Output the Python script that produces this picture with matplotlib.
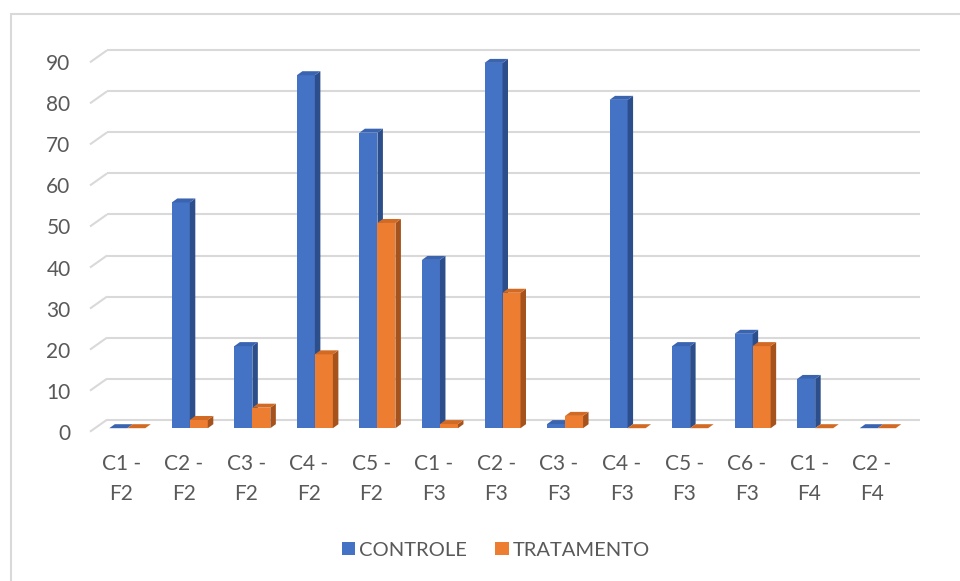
import matplotlib
matplotlib.use("Agg")
import matplotlib.pyplot as plt
from matplotlib.patches import Polygon, Rectangle

categories = ["C1 -\nF2", "C2 -\nF2", "C3 -\nF2", "C4 -\nF2", "C5 -\nF2", "C1 -\nF3",
              "C2 -\nF3", "C3 -\nF3", "C4 -\nF3", "C5 -\nF3", "C6 -\nF3", "C1 -\nF4", "C2 -\nF4"]
controle = [0, 55, 20, 86, 72, 41, 89, 1, 80, 20, 23, 12, 0]
tratamento = [0, 2, 5, 18, 50, 1, 33, 3, 0, 0, 20, 0, 0]
yticks = [0, 10, 20, 30, 40, 50, 60, 70, 80, 90]

W, H = 960, 581
fig = plt.figure(figsize=(W / 100, H / 100), dpi=100)
FONT = ["Lato", "DejaVu Sans"]
FS = 15
TXT = "#595959"

# axes geometry in pixels (front plane)
left_px, right_px = 90, 903
top_px, bot_px = 62.3, 431.7
ax = fig.add_axes([left_px / W, 1 - bot_px / H, (right_px - left_px) / W, (bot_px - top_px) / H])
xmin, xmax, ymin, ymax = -0.5, len(categories) - 0.5, 0, 90
ax.set_xlim(xmin, xmax)
ax.set_ylim(ymin, ymax)
for s in ax.spines.values():
    s.set_visible(False)
ax.set_facecolor("none")

ppx = (right_px - left_px) / (xmax - xmin)
ppy = (bot_px - top_px) / (ymax - ymin)

def dx(px):
    return px / ppx

def dy(px):
    return px / ppy

# back wall gridlines and left side diagonals
bx, by = dx(17), dy(12)
grid_c = "#d9d9d9"
for v in yticks:
    ax.plot([xmin + bx, xmax + bx], [v + by, v + by], color=grid_c, lw=1.5, clip_on=False, zorder=1,
            solid_capstyle="butt")
    ax.plot([xmin, xmin + bx], [v, v + by], color=grid_c, lw=1.5, clip_on=False, zorder=1,
            solid_capstyle="butt")

# bars (3D-looking)
bw = dx(18)
sx, sy = dx(6), dy(3.5)        # placement depth shift
ddx, ddy = dx(5.5), dy(4)      # bar depth
series = [
    (controle, -1, "#4472C4", "#2C4F8C", "#3A64B0", "CONTROLE"),
    (tratamento, 0, "#ED7D31", "#A5521C", "#D26A24", "TRATAMENTO"),
]
z = 3
for i in range(len(categories)):
    for vals, off, cf, cs, ct, lab in series:
        v = vals[i]
        x0 = i + off * bw + sx
        x1 = x0 + bw
        y0 = sy
        y1 = v + sy
        ax.bar(x0, v, width=bw, bottom=y0, align="edge", color=cf, edgecolor="none",
               clip_on=False, zorder=z)
        ax.add_patch(Polygon([(x1, y0), (x1, y1), (x1 + ddx, y1 + ddy), (x1 + ddx, y0 + ddy)],
                             closed=True, facecolor=cs, edgecolor="none", clip_on=False, zorder=z))
        ax.add_patch(Polygon([(x0, y1), (x1, y1), (x1 + ddx, y1 + ddy), (x0 + ddx, y1 + ddy)],
                             closed=True, facecolor=ct, edgecolor="none", clip_on=False, zorder=z))
        z += 0.01

# ticks
ax.set_yticks(yticks)
ax.set_yticklabels([str(t) for t in yticks], fontsize=FS, color=TXT, family=FONT)
ax.set_xticks(range(len(categories)))
ax.set_xticklabels(categories, fontsize=FS, color=TXT, family=FONT, linespacing=1.65)
ax.tick_params(axis="both", length=0)
ax.tick_params(axis="y", pad=14)
ax.tick_params(axis="x", pad=16)

# legend
handles = [Rectangle((0, 0), 1, 1, facecolor=s[2], edgecolor="none") for s in series]
fig.legend(handles, [s[5] for s in series], loc="center", bbox_to_anchor=(496 / W, 1 - 550 / H),
           ncol=2, frameon=False, prop={"family": FONT, "size": 14.5}, labelcolor=TXT,
           handlelength=0.65, handleheight=0.65, handletextpad=0.2, columnspacing=1.4)

# chart border
fig.patches.append(Rectangle((10.5 / W, -0.1), 2, 1 - 13.5 / H + 0.1, transform=fig.transFigure,
                             facecolor="none", edgecolor="#d9d9d9", lw=1.5))

fig.savefig("out.png", dpi=100)
